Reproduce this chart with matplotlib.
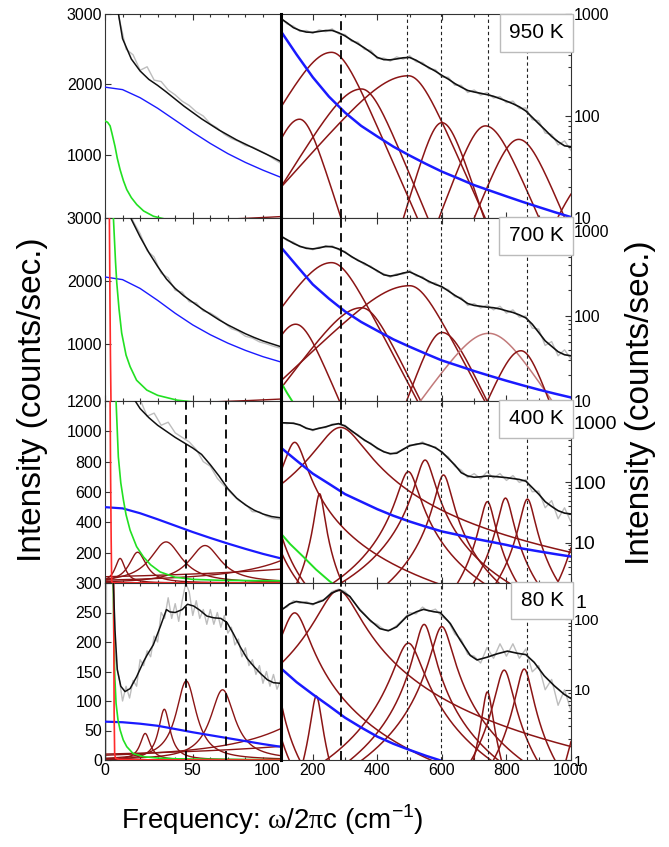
import numpy as np
import matplotlib.pyplot as plt
from matplotlib.ticker import FixedLocator, MultipleLocator, LogLocator, NullFormatter, FuncFormatter

plt.rcParams['font.family'] = ['Liberation Sans', 'DejaVu Sans']
plt.rcParams['mathtext.fontset'] = 'custom'
plt.rcParams['mathtext.rm'] = 'Liberation Serif'
plt.rcParams['mathtext.sf'] = 'Liberation Sans'

temps = ['950 K', '700 K', '400 K', '80 K']

# common x grids (cm^-1)
xl5 = np.arange(0, 101, 5)
xl10 = np.arange(0, 101, 10)
xl4 = np.arange(4, 101, 4)
xr20 = np.arange(100, 1001, 20)
xr50 = np.arange(100, 1001, 50)

# ---------------- 950 K ----------------
fit950_l = [5000, 3400, 2650, 2360, 2190, 2070, 1985, 1890, 1790, 1690, 1600,
            1510, 1430, 1350, 1280, 1210, 1150, 1090, 1030, 970, 905]
gray950_l = [3800, 2950, 2500, 2420, 2200, 2250, 2060, 2040, 1920, 1850, 1760, 1700,
             1610, 1550, 1440, 1380, 1290, 1230, 1190, 1130, 1110, 1060, 1010, 940, 880]
bg950_l = [1960, 1925, 1810, 1660, 1490, 1320, 1160, 1015, 890, 780, 680]
green950_x = [0, 1.5, 2.9, 4, 5.7, 7, 8.6, 10.5, 12.4, 15, 18.1, 22, 27.6, 35, 50, 70, 100]
green950_y = [1480, 1460, 1410, 1300, 1118, 950, 787, 630, 504, 390, 291, 200, 125, 80, 40, 20, 9]
fit950_r = [906, 820, 735, 690, 665, 660, 675, 688, 690, 655, 610, 555, 510, 465, 420, 375,
            357, 355, 363, 372, 375, 352, 323, 298, 275, 250, 230, 208, 192, 178, 172, 167,
            162, 156, 148, 140, 132, 123, 112, 97, 84, 73, 63, 56, 51, 50]
gray950_r = [930, 800, 760, 675, 690, 645, 700, 670, 715, 640, 630, 540, 530, 450, 440, 365,
             370, 345, 380, 360, 390, 340, 335, 290, 285, 240, 240, 200, 200, 170, 180, 160,
             170, 150, 155, 135, 140, 118, 120, 92, 90, 68, 66, 52, 57, 46]
bg950_r = [687, 400, 240, 155, 108, 80, 63, 50, 41, 34, 28.5, 24.5, 21, 18.5, 16.3, 14.4,
           12.8, 11.4, 10.2]
pk950_c = [159, 258, 351, 496, 600, 735, 838, 1060]
pk950_h = [93, 421, 184, 248, 86, 80, 59, 25]
pk950_wl = [56, 82, 86, 123, 42, 52, 56, 65]
pk950_wh = [44, 60, 57, 61, 46, 60, 58, 65]

# ---------------- 700 K ----------------
fit700_l = [6000, 4800, 3600, 2980, 2700, 2450, 2230, 2030, 1880, 1760, 1660,
            1560, 1470, 1380, 1300, 1230, 1160, 1100, 1045, 1000, 955]
gray700_l = [5000, 4000, 3350, 2950, 2750, 2480, 2380, 2120, 2050, 1850, 1820, 1670,
             1650, 1520, 1490, 1420, 1330, 1240, 1200, 1120, 1090, 1030, 1000, 960, 930]
bg700_l = [2062, 2020, 1880, 1690, 1485, 1300, 1144, 1010, 895, 795, 712]
green700_x = [3, 4, 4.8, 6, 6.7, 8, 9.5, 12, 14.3, 18, 23.8, 30, 41, 55, 70, 100, 120, 136, 160]
green700_y = [8000, 4800, 3000, 2300, 1971, 1550, 1171, 820, 637, 420, 264, 180, 104, 60,
              38, 17, 12.5, 10, 7.5]
red700_x = [0, 2, 2.5, 2.8, 3.1, 3.4, 3.7, 4.2, 5, 10, 100]
red700_y = [20000, 6000, 3000, 1800, 800, 100, 40, 15, 6, 1, 0.05]
fit700_r = [870, 790, 715, 660, 625, 615, 630, 660, 650, 615, 560, 500, 450, 415, 375, 340,
            305, 295, 303, 320, 330, 305, 280, 255, 235, 221, 197, 175, 158, 140, 133, 130,
            127, 125, 121, 115, 110, 103, 95, 80, 64, 51, 44, 38, 35, 34]
gray700_r = [900, 770, 740, 650, 640, 600, 650, 640, 670, 600, 575, 490, 460, 400, 385, 330,
             315, 285, 315, 310, 345, 295, 290, 245, 245, 212, 205, 168, 165, 133, 140, 124,
             135, 118, 130, 108, 118, 97, 100, 72, 70, 45, 50, 34, 40, 31]
bg700_r = [653, 390, 235, 160, 113, 85, 67, 53, 43.5, 36, 30, 26, 22.5, 19.7, 17.3, 15.3,
           13.6, 12.2, 11]
pk700_c = [147, 258, 351, 500, 600, 745, 845]
pk700_h = [80, 424, 125, 227, 64, 62.5, 39]
pk700_wl = [54, 82, 87, 122, 43, 84, 51]
pk700_wh = [49, 60, 57, 61, 55, 78, 43]

# ---------------- 400 K ----------------
fit400_l = [2500, 1900, 1500, 1240, 1150, 1090, 1040, 1000, 960, 925, 890,
            848, 780, 705, 622, 560, 515, 480, 455, 438, 430]
gray400_l = [1750, 1600, 1420, 1260, 1210, 1100, 1120, 1040, 1060, 990, 960, 930,
             880, 800, 770, 690, 640, 590, 545, 520, 470, 470, 440, 425, 420]
bg400_l = [500, 492, 460, 420, 378, 336, 297, 260, 225, 192, 163]
green400_x = [4, 5, 6.3, 7.6, 9, 10.5, 12, 14.3, 18, 21.9, 26, 31.4, 40, 50, 65, 85, 100,
              130, 170, 210, 252, 300]
green400_y = [3000, 1800, 1200, 832, 660, 547, 450, 348, 240, 172, 120, 73, 38, 24, 18,
              15.5, 14.5, 9.5, 5.9, 3.6, 2.3, 1.5]
red400_x = [0, 2, 2.6, 2.9, 3.2, 3.5, 3.8, 4.2, 5, 10, 100]
red400_y = [20000, 5000, 2500, 1200, 700, 300, 10, 3, 1, 0.2, 0.01]
fit400_r = [975, 970, 955, 900, 790, 745, 790, 835, 900, 945, 860, 720, 600, 505, 435, 370,
            322, 300, 305, 355, 405, 430, 445, 415, 375, 320, 250, 195, 145, 128, 122, 124,
            128, 126, 123, 120, 116, 112, 105, 82, 64, 48, 40, 34, 31, 30]
gray400_r = [1000, 940, 980, 880, 810, 720, 810, 810, 930, 920, 890, 700, 620, 490, 450, 355,
             330, 290, 320, 345, 420, 415, 470, 400, 390, 305, 265, 185, 160, 120, 140, 115,
             150, 118, 140, 108, 130, 100, 112, 70, 72, 38, 50, 25, 38, 22]
bg400_r = [382, 230, 140, 95, 64, 48, 36, 28, 22.5, 18.5, 15.4, 13.5, 11.7, 10.4, 9.2, 8,
           7.2, 6.5, 5.9]
pk400_c = [8.6, 18.6, 34.8, 57, 144, 221, 286, 496, 548, 605, 741, 797, 865, 1030]
pk400_h = [162, 203, 271, 247, 462, 65, 817, 151, 235, 133, 48, 55, 53, 20]
pk400_w = [3.5, 6, 11, 11, 30, 13, 66, 28, 25, 22, 20, 20, 20, 25]

# ---------------- 80 K ----------------
fit80_lx = [3, 4, 4.8, 5.7, 7, 9, 11.4, 14.3, 18, 22, 24, 27.5, 31.5, 35, 37, 40, 44, 47,
            50.5, 54, 58, 62, 66, 69.5, 73, 77, 81, 85, 88.5, 92.5, 96, 100]
fit80_ly = [900, 450, 297, 220, 153, 125, 116, 121, 141, 167, 178, 195, 226, 255, 251, 250,
            255, 264, 261, 254, 244, 241, 240, 233, 215, 192, 172, 158, 147, 136, 131, 130]
gray80_lx = np.concatenate([[0.6, 1.0, 2.0, 3.0], np.arange(4, 101, 2)])
gray80_ly = [0, 500, 480, 460,
             400, 170, 140, 100, 125, 105, 135, 125, 170, 160, 185, 175, 210, 200, 250, 240,
             275, 240, 265, 235, 270, 300, 285, 245, 270, 240, 255, 230, 255, 230, 250, 225,
             245, 215, 225, 195, 205, 175, 190, 160, 170, 145, 160, 130, 150, 125, 145, 120, 135]
bg80_l = [65, 64, 61.5, 58, 52.5, 47, 42, 37, 32, 27, 22.5]
green80_x = [3.5, 4, 4.6, 5.1, 5.6, 6.3, 7.4, 8.6, 10.4, 12.4, 16, 21.9, 30, 41, 60, 100]
green80_y = [1500, 700, 320, 192, 140, 96, 68, 51, 34, 22.6, 11, 5.6, 3.3, 2, 1.2, 0.5]
red80_x = [0, 3, 4.2, 4.6, 4.9, 5.2, 5.5, 6, 8, 20, 100]
red80_y = [50000, 8000, 2000, 600, 300, 80, 10, 3, 1, 0.2, 0.0]
fit80_rx = [100, 128, 149, 170, 201, 232, 258, 284, 315, 346, 377, 408, 434, 460, 491, 522,
            543, 574, 595, 626, 657, 688, 709, 740, 771, 803, 834, 860, 886, 917, 948, 979, 1000]
fit80_ry = [133, 166, 180, 174, 166, 186, 237, 264, 212, 136, 98, 74, 69, 78.5, 110, 129,
            139, 129, 125, 87.5, 50.5, 30.7, 26.5, 29, 32.4, 35.4, 33, 31.6, 24.5, 15.8,
            11.4, 8.6, 7.5]
gray80_r = [140, 150, 185, 170, 180, 160, 185, 195, 250, 270, 250, 195, 150, 120, 92, 85,
            72, 70, 82, 100, 125, 120, 150, 130, 140, 110, 95, 62, 52, 32, 30, 24, 40, 28,
            45, 30, 45, 28, 38, 18, 22, 10, 14, 6, 10, 5]
bg80_r = [20.4, 12.8, 8.6, 5.9, 4.0, 2.9, 2.15, 1.7, 1.39, 1.15, 0.97, 0.83, 0.72, 0.63,
          0.56, 0.5, 0.45, 0.41, 0.37]
pk80_c = [22.9, 33.8, 46.3, 67, 144, 211, 279, 496, 545, 600, 741, 793, 855, 1020]
pk80_h = [45, 86, 134, 119, 124, 8.1, 259, 46, 85, 79, 9.3, 19, 19.7, 3]
pk80_w = [3.5, 4, 7, 8.5, 38, 15, 56, 38, 25, 28, 15, 24, 22, 25]

# dashed guide lines
guides_left = [46, 69]
guide_main = 286
guides_right = [493, 598, 743, 865]

# panel table built from the arrays above
panels = [
    dict(fit_l=(xl5, fit950_l), gray_l=(xl4, gray950_l), bg_l=bg950_l,
         green=(green950_x, green950_y), red=None,
         fit_r=(xr20, fit950_r), gray_r=(xr20, gray950_r), bg_r=bg950_r,
         pk=(pk950_c, pk950_h, pk950_wl, pk950_wh), kind='sech', light=[],
         ylim_l=(100, 3000), yt_l=[1000, 2000, 3000], ylim_r=(10, 1000),
         yt_r=[10, 100, 1000], lguides=False, bg_lw=1.0, fs_r=11.5),
    dict(fit_l=(xl5, fit700_l), gray_l=(xl4, gray700_l), bg_l=bg700_l,
         green=(green700_x, green700_y), red=(red700_x, red700_y),
         fit_r=(xr20, fit700_r), gray_r=(xr20, gray700_r), bg_r=bg700_r,
         pk=(pk700_c, pk700_h, pk700_wl, pk700_wh), kind='sech', light=[5],
         ylim_l=(90, 3000), yt_l=[1000, 2000, 3000], ylim_r=(10, 1420),
         yt_r=[10, 100, 1000], lguides=False, bg_lw=1.0, fs_r=11.5),
    dict(fit_l=(xl5, fit400_l), gray_l=(xl4, gray400_l), bg_l=bg400_l,
         green=(green400_x, green400_y), red=(red400_x, red400_y),
         fit_r=(xr20, fit400_r), gray_r=(xr20, gray400_r), bg_r=bg400_r,
         pk=(pk400_c, pk400_h, pk400_w, pk400_w), kind='lorentz', light=[],
         ylim_l=(0, 1200), yt_l=[200, 400, 600, 800, 1000, 1200], ylim_r=(2.15, 2240),
         yt_r=[10, 100, 1000], lguides=True, bg_lw=1.6, fs_r=14),
    dict(fit_l=(fit80_lx, fit80_ly), gray_l=(gray80_lx, gray80_ly), bg_l=bg80_l,
         green=(green80_x, green80_y), red=(red80_x, red80_y),
         fit_r=(fit80_rx, fit80_ry), gray_r=(xr20, gray80_r), bg_r=bg80_r,
         pk=(pk80_c, pk80_h, pk80_w, pk80_w), kind='lorentz', light=[],
         ylim_l=(0, 300), yt_l=[0, 50, 100, 150, 200, 250, 300], ylim_r=(1, 330),
         yt_r=[1, 10, 100], lguides=True, bg_lw=1.6, fs_r=11),
]


def peak_curve(x, c, h, wl, wh, kind):
    w = np.where(x < c, wl, wh)
    if kind == 'sech':
        return h / np.cosh((x - c) / w)
    return h / (1 + ((x - c) / w) ** 2)


W, H = 669, 847
fig = plt.figure(figsize=(W / 100, H / 100), dpi=100)
x0, xm, x1 = 105, 280.5, 571
rows = [14, 218, 401, 583, 760]

c_gray = '#bdbdbd'
c_pk = '#8b1515'
c_pk_light = '#c27a7a'
c_blue = '#1a1aff'
c_green = '#22e022'
c_red = '#ff2a2a'
c_spine = '#333333'
xs_l = np.linspace(0, 100, 501)
xs_r = np.linspace(100, 1000, 901)

for i, p in enumerate(panels):
    top, bot = rows[i], rows[i + 1]
    axl = fig.add_axes([x0 / W, 1 - bot / H, (xm - x0) / W, (bot - top) / H])
    axr = fig.add_axes([xm / W, 1 - bot / H, (x1 - xm) / W, (bot - top) / H])
    c, h, wl, wh = p['pk']

    # ---- left (linear) panel ----
    axl.plot(p['gray_l'][0], p['gray_l'][1], color=c_gray, lw=1.0, zorder=1)
    for k in range(len(c)):
        col = c_pk_light if k in p['light'] else c_pk
        axl.plot(xs_l, peak_curve(xs_l, c[k], h[k], wl[k], wh[k], p['kind']),
                 color=col, lw=1.0, zorder=2)
    axl.plot(xl10, p['bg_l'], color=c_blue, lw=p['bg_lw'], zorder=3)
    axl.plot(p['green'][0], p['green'][1], color=c_green, lw=1.2, zorder=3)
    if p['red'] is not None:
        axl.plot(p['red'][0], p['red'][1], color=c_red, lw=1.2, zorder=3)
    axl.plot(p['fit_l'][0], p['fit_l'][1], color='#111111', lw=1.1, zorder=4)
    if p['lguides']:
        for g in guides_left:
            axl.axvline(g, color='k', lw=1.3, ls=(0, (5, 3)), zorder=5)
    axl.set_xlim(0, 100)
    axl.set_ylim(*p['ylim_l'])
    axl.xaxis.set_major_locator(FixedLocator([0, 50, 100]))
    axl.xaxis.set_minor_locator(MultipleLocator(10))
    axl.yaxis.set_major_locator(FixedLocator(p['yt_l']))
    axl.tick_params(which='both', direction='in', top=True, right=False,
                    labelsize=11.5, width=0.8, color=c_spine, pad=2)
    axl.tick_params(which='major', length=4)
    axl.tick_params(which='minor', length=2)
    axl.spines['right'].set_visible(False)
    for s in ['left', 'top', 'bottom']:
        axl.spines[s].set_color(c_spine)
        axl.spines[s].set_linewidth(0.8)
    if i < 3:
        axl.tick_params(labelbottom=False)
    else:
        axl.set_xticks([0, 50, 100], ['0', '50', '100'])
        axl.get_xticklabels()[2].set_horizontalalignment('right')

    # ---- right (log) panel ----
    axr.set_yscale('log')
    axr.plot(p['gray_r'][0], p['gray_r'][1], color=c_gray, lw=1.0, zorder=1)
    for k in range(len(c)):
        col = c_pk_light if k in p['light'] else c_pk
        axr.plot(xs_r, peak_curve(xs_r, c[k], h[k], wl[k], wh[k], p['kind']),
                 color=col, lw=1.1, zorder=2)
    axr.plot(xr50, p['bg_r'], color=c_blue, lw=1.8, zorder=3)
    axr.plot(p['green'][0], p['green'][1], color=c_green, lw=1.4, zorder=3)
    axr.plot(p['fit_r'][0], p['fit_r'][1], color='#111111', lw=1.2, zorder=4)
    axr.axvline(guide_main, color='k', lw=1.3, ls=(0, (5, 3)), zorder=5)
    for g in guides_right:
        axr.axvline(g, color='#222222', lw=0.8, ls=(0, (3, 2.5)), zorder=5)
    axr.set_xlim(100, 1000)
    axr.set_ylim(*p['ylim_r'])
    axr.xaxis.set_major_locator(FixedLocator([200, 400, 600, 800, 1000]))
    axr.xaxis.set_minor_locator(MultipleLocator(100))
    axr.yaxis.set_major_locator(FixedLocator(p['yt_r']))
    axr.yaxis.set_major_formatter(FuncFormatter(lambda v, pos: '%d' % round(v)))
    axr.yaxis.set_minor_locator(LogLocator(base=10, subs=np.arange(2, 10)))
    axr.yaxis.set_minor_formatter(NullFormatter())
    axr.tick_params(which='both', direction='in', top=True, bottom=True,
                    left=False, right=True, labelleft=False, labelright=True,
                    width=0.8, color=c_spine, pad=2)
    axr.tick_params(axis='x', labelsize=11.5)
    axr.tick_params(axis='y', labelsize=p['fs_r'])
    axr.tick_params(which='major', length=4)
    axr.tick_params(which='minor', length=2)
    for s in ['right', 'top', 'bottom']:
        axr.spines[s].set_color(c_spine)
        axr.spines[s].set_linewidth(0.8)
    axr.spines['left'].set_color('k')
    axr.spines['left'].set_linewidth(2.2)
    axr.spines['left'].set_zorder(6)
    if i < 3:
        axr.tick_params(labelbottom=False)
    if i == 2:
        axr.annotate('1', xy=(1, 1), xycoords=('axes fraction', 'data'),
                     xytext=(3.5, 0), textcoords='offset points', ha='left',
                     va='center', fontsize=14, annotation_clip=False)

    axr.text(0.975, 0.955, temps[i], transform=axr.transAxes, ha='right', va='top',
             fontsize=15, zorder=10,
             bbox=dict(boxstyle='square,pad=0.45', fc='white', ec='#bbbbbb', lw=1.0))

fig.text(0.048, 0.528, 'Intensity (counts/sec.)', rotation=90, ha='center', va='center',
         fontsize=24)
fig.text(0.957, 0.525, 'Intensity (counts/sec.)', rotation=90, ha='center', va='center',
         fontsize=24)
fig.text(0.407, 0.032, r'Frequency: $\mathrm{\omega}$/2$\mathrm{\pi}$c (cm$^{\mathsf{-1}}$)',
         ha='center', va='center', fontsize=20)

fig.savefig('out.png', dpi=100)
